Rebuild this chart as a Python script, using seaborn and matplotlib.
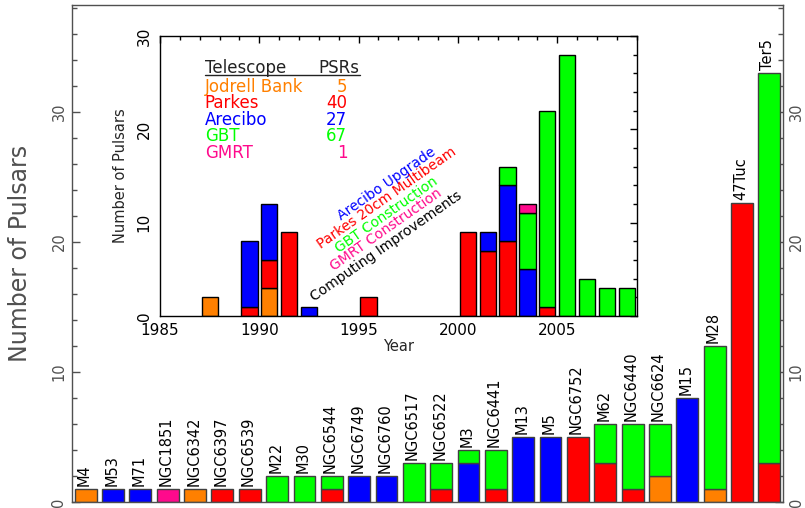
import numpy as np
import pandas as pd
import matplotlib
matplotlib.use("Agg")
import matplotlib.pyplot as plt
import seaborn as sns
from matplotlib.ticker import MultipleLocator

# globular clusters, pulsars per telescope
clusters = ["M4", "M53", "M71", "NGC1851", "NGC6342", "NGC6397", "NGC6539", "M22", "M30",
            "NGC6544", "NGC6749", "NGC6760", "NGC6517", "NGC6522", "M3", "NGC6441", "M13",
            "M5", "NGC6752", "M62", "NGC6440", "NGC6624", "M15", "M28", "47Tuc", "Ter5"]
jodrell = [1, 0, 0, 0, 1, 0, 0, 0, 0, 0, 0, 0, 0, 0, 0, 0, 0, 0, 0, 0, 0, 2, 0, 1, 0, 0]
parkes = [0, 0, 0, 0, 0, 1, 1, 0, 0, 1, 0, 0, 0, 1, 0, 1, 0, 0, 5, 3, 1, 0, 0, 0, 23, 3]
arecibo = [0, 1, 1, 0, 0, 0, 0, 0, 0, 0, 2, 2, 0, 0, 3, 0, 5, 5, 0, 0, 0, 0, 8, 0, 0, 0]
gbt = [0, 0, 0, 0, 0, 0, 0, 2, 2, 1, 0, 0, 3, 2, 1, 3, 0, 0, 0, 3, 5, 4, 0, 11, 0, 30]
gmrt = [0, 0, 0, 1, 0, 0, 0, 0, 0, 0, 0, 0, 0, 0, 0, 0, 0, 0, 0, 0, 0, 0, 0, 0, 0, 0]

# discoveries per year (inset)
years = [1987, 1989, 1990, 1991, 1992, 1995, 2000, 2001, 2002, 2003, 2004, 2005, 2006, 2007, 2008]
jodrell_yr = [2, 0, 3, 0, 0, 0, 0, 0, 0, 0, 0, 0, 0, 0, 0]
parkes_yr = [0, 1, 3, 9, 0, 2, 9, 7, 8, 0, 1, 0, 0, 0, 0]
arecibo_yr = [0, 7, 6, 0, 1, 0, 0, 2, 6, 5, 0, 0, 0, 0, 0]
gbt_yr = [0, 0, 0, 0, 0, 0, 0, 0, 2, 6, 21, 28, 4, 3, 3]
gmrt_yr = [0, 0, 0, 0, 0, 0, 0, 0, 0, 1, 0, 0, 0, 0, 0]

telescopes = ["Jodrell Bank", "Parkes", "Arecibo", "GBT", "GMRT"]
totals = [5, 40, 27, 67, 1]
colors = {"Jodrell Bank": "#ff8000", "Parkes": "#ff0000", "Arecibo": "#0000ff",
          "GBT": "#00ff00", "GMRT": "#ff0a8c"}

events = ["Arecibo Upgrade", "Parkes 20cm Multibeam", "GBT Construction",
          "GMRT Construction", "Computing Improvements"]
event_colors = ["#0000ff", "#ff0000", "#00ff00", "#ff0a8c", "black"]
event_y = [14.2, 12.6, 10.8, 9.2, 7.5]


def long_form(keys, series):
    rows = []
    for tel, counts in zip(telescopes, series):
        for k, n in zip(keys, counts):
            if n:
                rows.append((k, tel, n))
    return pd.DataFrame(rows, columns=["x", "telescope", "n"])


def drop_empty(axis):
    # histplot draws zero-height bars for empty bins; they only add stray lines
    for p in list(axis.patches):
        if p.get_height() == 0:
            p.remove()


main_df = long_form(range(len(clusters)), [jodrell, parkes, arecibo, gbt, gmrt])
year_df = long_form(years, [jodrell_yr, parkes_yr, arecibo_yr, gbt_yr, gmrt_yr])
stack_order = telescopes[::-1]  # seaborn puts the first hue level on top

sns.set_style("white")
plt.rcParams["font.family"] = ["DejaVu Sans"]

fig = plt.figure(figsize=(8.05, 5.08), dpi=100)
ax = fig.add_axes([72 / 805, 6 / 508, 711 / 805, 497 / 508])

gray = "#505050"
sns.histplot(data=main_df, x="x", weights="n", hue="telescope", hue_order=stack_order,
             multiple="stack", discrete=True, shrink=0.8, palette=colors, alpha=1,
             edgecolor="#404040", linewidth=1, legend=False, ax=ax)
drop_empty(ax)
ax.set_xlim(-0.5, 25.5)
ax.set_ylim(0, 38.2)
ax.set_xlabel("")
ax.set_ylabel("Number of Pulsars", fontsize=17, color=gray, labelpad=14)
ax.yaxis.set_major_locator(MultipleLocator(10))
ax.yaxis.set_minor_locator(MultipleLocator(2))
ax.tick_params(axis="x", bottom=False, labelbottom=False)
ax.tick_params(axis="y", which="both", direction="in", left=True, right=True,
               labelleft=True, labelright=True, labelrotation=90, colors=gray,
               labelsize=10.5, pad=4)
ax.tick_params(axis="y", which="major", length=6, width=1)
ax.tick_params(axis="y", which="minor", length=3.5, width=1)
plt.setp(ax.get_yticklabels(), va="center")
for s in ax.spines.values():
    s.set_color(gray)
    s.set_linewidth(1)

stack_tot = np.array(jodrell) + np.array(parkes) + np.array(arecibo) + np.array(gbt) + np.array(gmrt)
for i, (name, tot) in enumerate(zip(clusters, stack_tot)):
    ax.annotate(name, (i, tot), xytext=(-1, 2), textcoords="offset points", rotation=90,
                ha="center", va="bottom", fontsize=10.5, color="black")

# inset: discoveries by year
ax2 = fig.add_axes([160 / 805, 192 / 508, 476.7 / 805, 280 / 508])
ax2.set_facecolor("white")
sns.histplot(data=year_df, x="x", weights="n", hue="telescope", hue_order=stack_order,
             multiple="stack", binwidth=1, binrange=(1985, 2009), shrink=0.82,
             palette=colors, alpha=1, edgecolor="black", linewidth=1, legend=False, ax=ax2)
drop_empty(ax2)
ax2.set_xlim(1985, 2009)
ax2.set_ylim(0, 30)
ax2.set_xlabel("Year", fontsize=10.5, labelpad=1)
ax2.set_ylabel("Number of Pulsars", fontsize=10.5, labelpad=6)
ax2.xaxis.set_major_locator(MultipleLocator(5))
ax2.xaxis.set_minor_locator(MultipleLocator(1))
ax2.yaxis.set_major_locator(MultipleLocator(10))
ax2.yaxis.set_minor_locator(MultipleLocator(2))
ax2.tick_params(which="both", direction="in", top=True, right=True, colors="black",
                labelsize=11, width=1)
ax2.tick_params(which="major", length=5)
ax2.tick_params(which="minor", length=3)
ax2.tick_params(axis="y", labelrotation=90, pad=6)
ax2.tick_params(axis="x", pad=5)
plt.setp(ax2.get_yticklabels(), va="center")
for s in ax2.spines.values():
    s.set_color("black")
    s.set_linewidth(1)

# telescope table
tx, nx = 0.094, 0.393
ax2.text(tx, 0.885, "Telescope", transform=ax2.transAxes, ha="left", va="center",
         fontsize=12, color="#222222")
ax2.text(0.418, 0.885, "PSRs", transform=ax2.transAxes, ha="right", va="center",
         fontsize=12, color="#222222")
ax2.plot([tx, 0.42], [0.861, 0.861], transform=ax2.transAxes, color="#222222", lw=1)
for k, (tel, tot) in enumerate(zip(telescopes, totals)):
    yy = 0.819 - k * 0.059
    ax2.text(tx, yy, tel, transform=ax2.transAxes, ha="left", va="center",
             fontsize=12, color=colors[tel])
    ax2.text(nx, yy, str(tot), transform=ax2.transAxes, ha="right", va="center",
             fontsize=12, color=colors[tel])

for label, c, yy in zip(events, event_colors, event_y):
    ax2.text(1996.4, yy, label, rotation=35, rotation_mode="anchor", ha="center",
             va="center", fontsize=10, color=c)

fig.savefig("out.png", dpi=100)
